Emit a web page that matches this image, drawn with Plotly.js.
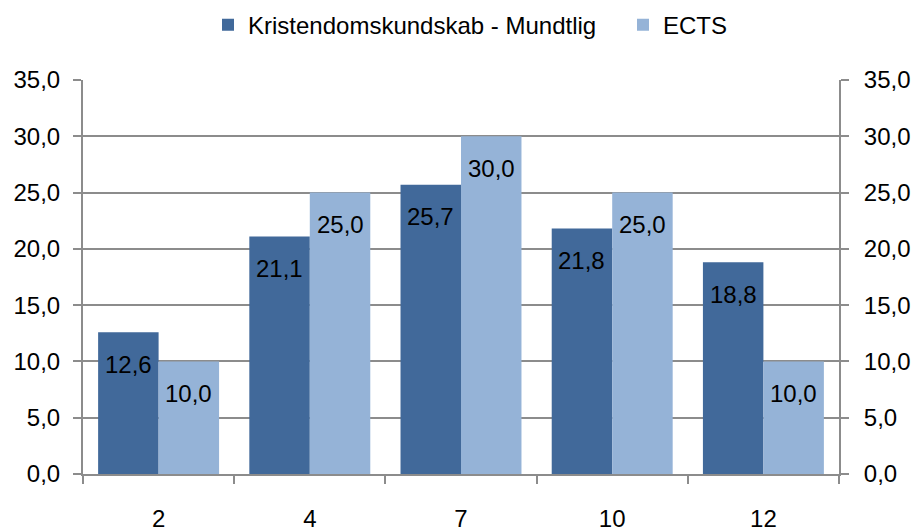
<!DOCTYPE html>
<html>
<head>
<meta charset="utf-8">
<script src="https://cdn.plot.ly/plotly-3.0.1.min.js"></script>
<style>html,body{margin:0;padding:0;background:#fff;}#chart{width:916px;height:531px;}</style>
</head>
<body>
<div id="chart"></div>
<script>
const categories = ["2", "4", "7", "10", "12"];
const seriesNames = ["Kristendomskundskab - Mundtlig", "ECTS"];
const mundtlig = [12.6, 21.1, 25.7, 21.8, 18.8];
const ects = [10.0, 25.0, 30.0, 25.0, 10.0];
const yTicks = [0, 5, 10, 15, 20, 25, 30, 35];

const FONT = "Liberation Sans, Arial, sans-serif";
const FS = 24;
const dark = "#41699A";
const light = "#95B3D7";
const grid = "#8C8C8C";

function fmt(v){ return v.toFixed(1).replace(".", ","); }

const traces = [
  {type: "bar", name: seriesNames[0], x: categories, y: mundtlig, legend: "legend",
   marker: {color: dark}, width: 0.4, offset: -0.4, hoverinfo: "skip"},
  {type: "bar", name: seriesNames[1], x: categories, y: ects, legend: "legend2",
   marker: {color: light}, width: 0.4, offset: 0, hoverinfo: "skip"},
  {type: "scatter", mode: "markers", x: categories, y: ects, yaxis: "y2",
   marker: {opacity: 0}, showlegend: false, hoverinfo: "skip"}
];

const annotations = [];
[mundtlig, ects].forEach((arr, s) => {
  arr.forEach((v, i) => {
    annotations.push({
      x: i + (s === 0 ? -0.2 : 0.2), y: v, xref: "x", yref: "y",
      text: fmt(v), showarrow: false, yanchor: "middle", yshift: -32,
      font: {family: FONT, size: FS, color: "#000"}
    });
  });
});

const yaxisBase = {
  range: [0, 35], tickvals: yTicks, ticktext: yTicks.map(fmt),
  ticks: "outside", ticklen: 8, tickwidth: 2, tickcolor: grid,
  showline: true, linecolor: grid, linewidth: 2,
  tickfont: {family: FONT, size: FS, color: "#000"},
  fixedrange: true, zeroline: false
};

const legendBase = {orientation: "h", xref: "container", xanchor: "left", y: 0.995, yref: "container", yanchor: "top",
                    bgcolor: "rgba(0,0,0,0)", font: {family: FONT, size: FS, color: "#000"}};

const layout = {
  width: 916, height: 531,
  margin: {l: 83, r: 77, t: 80, b: 57, autoexpand: false},
  paper_bgcolor: "#fff", plot_bgcolor: "#fff",
  showlegend: true,
  legend: Object.assign({}, legendBase, {x: 208 / 916}),
  legend2: Object.assign({}, legendBase, {x: 623 / 916}),
  bargap: 0.2,
  xaxis: {type: "category", tickson: "boundaries", ticks: "outside", ticklen: 8, tickwidth: 2,
          tickcolor: grid, showline: true, linecolor: grid, linewidth: 2, showgrid: false,
          tickfont: {family: FONT, size: FS, color: "#000"}, ticklabelstandoff: 22, fixedrange: true},
  yaxis: Object.assign({}, yaxisBase, {showgrid: true, gridcolor: grid, gridwidth: 2, ticklabelstandoff: 8}),
  yaxis2: Object.assign({}, yaxisBase, {overlaying: "y", side: "right", showgrid: false, ticklabelstandoff: 10}),
  annotations: annotations
};

Plotly.newPlot("chart", traces, layout, {displayModeBar: false, staticPlot: true});
</script>
</body>
</html>
